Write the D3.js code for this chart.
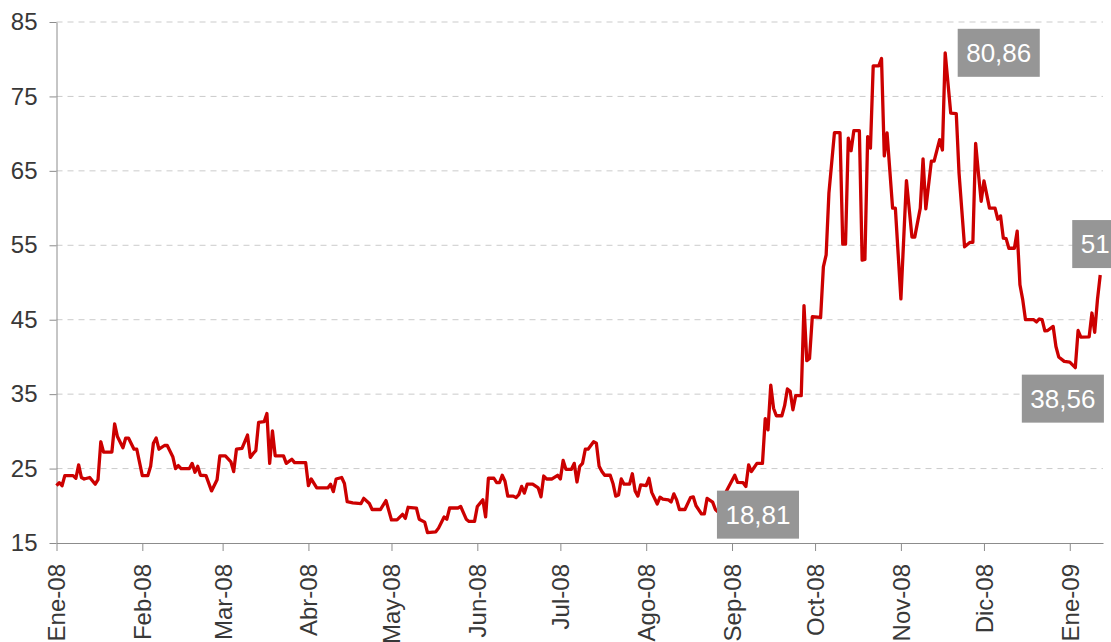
<!DOCTYPE html>
<html>
<head>
<meta charset="utf-8">
<script src="https://cdn.jsdelivr.net/npm/d3@7"></script>
<style>
  body { margin: 0; background: #fff; }
  svg { display: block; font-family: "Liberation Sans", Arial, sans-serif; }
</style>
</head>
<body>
<div id="chart-area"></div>
<script>
var width = 1111;
var height = 642;

// series
var dates = [
  "2008-01-01","2008-01-02","2008-01-03","2008-01-04","2008-01-07","2008-01-08","2008-01-09","2008-01-10","2008-01-11","2008-01-13",
  "2008-01-15","2008-01-16","2008-01-17","2008-01-18","2008-01-21","2008-01-22","2008-01-23","2008-01-25","2008-01-26","2008-01-27",
  "2008-01-29","2008-01-30","2008-02-01","2008-02-03","2008-02-04","2008-02-05","2008-02-06","2008-02-07","2008-02-09","2008-02-10",
  "2008-02-12","2008-02-13","2008-02-14","2008-02-15","2008-02-18","2008-02-19","2008-02-20","2008-02-21","2008-02-22","2008-02-24",
  "2008-02-26","2008-02-28","2008-02-29","2008-03-02","2008-03-04","2008-03-05","2008-03-06","2008-03-08","2008-03-10","2008-03-11",
  "2008-03-12","2008-03-13","2008-03-14","2008-03-16","2008-03-17","2008-03-18","2008-03-19","2008-03-20","2008-03-23","2008-03-24",
  "2008-03-26","2008-03-27","2008-03-31","2008-04-01","2008-04-02","2008-04-04","2008-04-08","2008-04-09","2008-04-10","2008-04-11",
  "2008-04-13","2008-04-14","2008-04-15","2008-04-17","2008-04-20","2008-04-21","2008-04-23","2008-04-24","2008-04-27","2008-04-29",
  "2008-05-01","2008-05-03","2008-05-05","2008-05-06","2008-05-07","2008-05-10","2008-05-11","2008-05-13","2008-05-14","2008-05-17",
  "2008-05-18","2008-05-20","2008-05-21","2008-05-22","2008-05-25","2008-05-26","2008-05-28","2008-05-29","2008-05-31","2008-06-01",
  "2008-06-03","2008-06-04","2008-06-05","2008-06-07","2008-06-08","2008-06-09","2008-06-10","2008-06-11","2008-06-12","2008-06-14",
  "2008-06-15","2008-06-16","2008-06-17","2008-06-18","2008-06-19","2008-06-21","2008-06-23","2008-06-24","2008-06-25","2008-06-26",
  "2008-06-28","2008-06-30","2008-07-01","2008-07-02","2008-07-03","2008-07-05","2008-07-06","2008-07-07","2008-07-08","2008-07-09",
  "2008-07-10","2008-07-11","2008-07-13","2008-07-14","2008-07-15","2008-07-16","2008-07-17","2008-07-19","2008-07-20","2008-07-21",
  "2008-07-22","2008-07-23","2008-07-24","2008-07-26","2008-07-27","2008-07-28","2008-07-29","2008-07-30","2008-08-01","2008-08-02",
  "2008-08-03","2008-08-05","2008-08-06","2008-08-07","2008-08-09","2008-08-10","2008-08-11","2008-08-12","2008-08-13","2008-08-15",
  "2008-08-17","2008-08-18","2008-08-19","2008-08-21","2008-08-22","2008-08-23","2008-08-25","2008-08-26","2008-08-28","2008-08-30",
  "2008-09-02","2008-09-03","2008-09-05","2008-09-06","2008-09-07","2008-09-08","2008-09-10","2008-09-12","2008-09-13","2008-09-14",
  "2008-09-15","2008-09-16","2008-09-17","2008-09-19","2008-09-20","2008-09-21","2008-09-22","2008-09-23","2008-09-24","2008-09-26",
  "2008-09-27","2008-09-28","2008-09-29","2008-09-30","2008-10-03","2008-10-04","2008-10-05","2008-10-06","2008-10-08","2008-10-10",
  "2008-10-11","2008-10-12","2008-10-13","2008-10-14","2008-10-15","2008-10-17","2008-10-18","2008-10-19","2008-10-20","2008-10-21",
  "2008-10-22","2008-10-24","2008-10-25","2008-10-26","2008-10-27","2008-10-29","2008-10-30","2008-11-01","2008-11-03","2008-11-05",
  "2008-11-06","2008-11-08","2008-11-09","2008-11-10","2008-11-12","2008-11-13","2008-11-15","2008-11-16","2008-11-17","2008-11-19",
  "2008-11-21","2008-11-22","2008-11-24","2008-11-26","2008-11-27","2008-11-28","2008-11-29","2008-11-30","2008-12-01","2008-12-03",
  "2008-12-05","2008-12-06","2008-12-07","2008-12-08","2008-12-09","2008-12-10","2008-12-12","2008-12-13","2008-12-14","2008-12-15",
  "2008-12-16","2008-12-19","2008-12-20","2008-12-21","2008-12-22","2008-12-23","2008-12-24","2008-12-26","2008-12-27","2008-12-28",
  "2008-12-30","2009-01-01","2009-01-03","2009-01-04","2009-01-05","2009-01-08","2009-01-09","2009-01-10","2009-01-11","2009-01-12"
];

var values = [
  22.7,23.1,22.7,24.05,24.05,23.7,25.5,23.8,23.6,23.8,
  22.9,23.5,28.6,27.2,27.2,31.0,29.3,27.8,29.1,29.1,
  27.6,27.6,24.05,24.05,25.3,28.4,29.1,27.6,28.1,28.1,
  26.6,25.0,25.4,25.0,25.0,25.7,24.5,25.3,24.1,24.05,
  22.0,23.5,26.7,26.7,25.9,24.6,27.6,27.7,29.5,26.5,
  27.0,27.4,31.2,31.3,32.4,25.7,30.05,26.7,26.7,25.7,
  26.25,25.8,25.8,22.7,23.6,22.4,22.4,22.9,21.9,23.6,
  23.8,23.0,20.55,20.4,20.3,21.0,20.3,19.5,19.5,20.7,
  18.1,18.1,18.85,18.3,19.8,19.7,18.2,17.8,16.4,16.5,
  17.0,18.5,18.2,19.7,19.7,19.9,18.2,17.9,17.9,19.9,
  20.8,18.5,23.7,23.7,23.1,23.1,24.1,23.3,21.3,21.3,
  21.1,21.5,22.6,21.7,22.9,22.9,22.4,21.2,24.0,23.6,
  23.6,24.1,23.6,26.1,24.9,24.9,25.7,23.2,25.3,25.7,
  27.6,27.6,28.6,28.4,25.3,24.6,24.1,24.1,23.0,21.3,
  21.45,23.6,22.9,22.9,24.3,22.0,21.3,22.8,22.7,23.7,
  21.8,20.25,21.15,20.9,20.8,20.5,21.6,20.8,19.5,19.5,
  21.1,21.2,20.0,18.9,18.9,21.0,20.5,19.5,18.81,22.0,
  24.1,23.15,23.1,22.6,25.5,24.6,25.7,25.7,31.7,30.2,
  36.2,33.1,32.1,32.1,33.45,35.7,35.4,32.9,34.8,34.8,
  46.9,39.5,39.8,45.4,45.3,52.1,53.7,62.0,70.15,70.15,
  55.15,55.15,69.4,67.7,70.4,70.4,53.0,53.1,69.6,68.05,
  79.1,79.1,80.1,67.0,70.1,60.0,60.0,47.8,63.7,56.1,
  56.1,60.0,66.6,59.9,66.3,66.3,69.2,67.8,80.86,72.75,
  72.7,64.7,54.8,55.4,55.4,68.7,64.7,60.9,63.65,60.0,
  60.0,58.5,58.95,55.95,55.9,54.6,54.6,56.9,49.7,47.7,
  45.0,45.0,44.7,45.1,45.0,43.5,43.55,44.1,41.4,40.0,
  39.4,39.3,38.56,43.55,42.65,42.7,45.9,43.3,47.7,51.0
];

var yTicks = [15, 25, 35, 45, 55, 65, 75, 85];
var tickLabels = ["Ene-08","Feb-08","Mar-08","Abr-08","May-08","Jun-08","Jul-08",
                  "Ago-08","Sep-08","Oct-08","Nov-08","Dic-08","Ene-09"];

// highlighted points
var noteDates = ["2008-08-28", "2008-11-17", "2009-01-03", "2009-01-12"];
var noteValues = [18.81, 80.86, 38.56, 51];
var noteLabels = ["18,81", "80,86", "38,56", "51"];

var parse = d3.timeParse("%Y-%m-%d");
var data = dates.map(function(d, i) { return {date: parse(d), value: values[i]}; });

var svg = d3.select("#chart-area").append("svg")
  .attr("width", width)
  .attr("height", height);

var x = d3.scaleTime()
  .domain([parse("2008-01-01"), parse("2009-01-13")])
  .range([56.5, 1103]);

var y = d3.scaleLinear().domain([15, 85]).range([543, 22]);

// grid
svg.append("g").selectAll("line")
  .data(yTicks.slice(1))
  .enter().append("line")
  .attr("x1", x.range()[0]).attr("x2", x.range()[1])
  .attr("y1", function(d) { return y(d); })
  .attr("y2", function(d) { return y(d); })
  .attr("stroke", "#cbcbcb")
  .attr("stroke-width", 1)
  .attr("stroke-dasharray", "6,5");

var yAxis = d3.axisLeft(y).tickValues(yTicks).tickSize(7).tickSizeOuter(0).tickPadding(12);
var gy = svg.append("g").attr("transform", "translate(" + x.range()[0] + ",0)").call(yAxis);
gy.selectAll("text").attr("font-size", "24px").attr("fill", "#383838")
  .attr("font-family", "Liberation Sans, Arial, sans-serif");

var monthTicks = d3.timeMonth.range(parse("2008-01-01"), parse("2009-01-02"));
var xAxis = d3.axisBottom(x).tickValues(monthTicks).tickSize(8).tickSizeOuter(0)
  .tickFormat(function(d, i) { return tickLabels[i]; });
var gx = svg.append("g").attr("transform", "translate(0," + y(15) + ")").call(xAxis);
gx.selectAll("text")
  .attr("font-size", "24px").attr("fill", "#383838")
  .attr("font-family", "Liberation Sans, Arial, sans-serif")
  .attr("y", 0).attr("x", -21).attr("dy", "0.35em")
  .attr("transform", "rotate(-90)")
  .style("text-anchor", "end");

[gx, gy].forEach(function(g) {
  g.selectAll("path, line").attr("stroke", "#8c8c8c");
});

var line = d3.line()
  .x(function(d) { return x(d.date); })
  .y(function(d) { return y(d.value); });

svg.append("path")
  .datum(data)
  .attr("fill", "none")
  .attr("stroke", "#cc0000")
  .attr("stroke-width", 3.3)
  .attr("stroke-linejoin", "round")
  .attr("d", line);

// label boxes, offset from the point they mark
var noteOffsets = [[-4, -24], [12.5, -24], [-53.5, 7], [-28, -55]];
noteLabels.forEach(function(lab, i) {
  var px = x(parse(noteDates[i])) + noteOffsets[i][0];
  var py = y(noteValues[i]) + noteOffsets[i][1];
  var g = svg.append("g").attr("transform", "translate(" + px + "," + py + ")");
  var rect = g.append("rect").attr("fill", "#969696").attr("height", 48);
  var t = g.append("text")
    .attr("x", 8.5).attr("y", 24).attr("dy", "0.36em")
    .attr("font-size", "26px").attr("fill", "#fff")
    .text(lab);
  rect.attr("width", t.node().getComputedTextLength() + 17);
});
</script>
</body>
</html>
